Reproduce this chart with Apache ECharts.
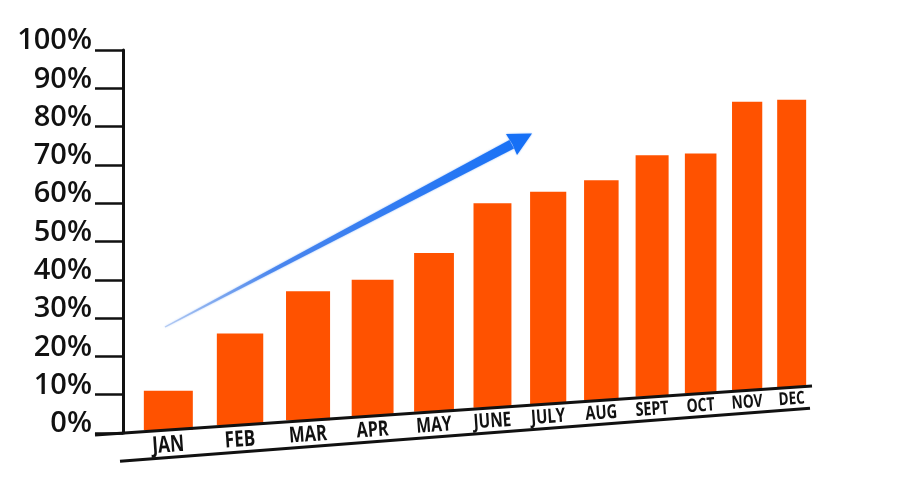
<!DOCTYPE html>
<html>
<head>
<meta charset="utf-8">
<script src="https://cdn.jsdelivr.net/npm/echarts@6/dist/echarts.min.js"></script>
<style>
  html, body { margin: 0; padding: 0; background: #fff; }
  #chart { width: 922px; height: 497px; }
</style>
</head>
<body>
<div id="chart"></div>
<script>
var months = ['JAN', 'FEB', 'MAR', 'APR', 'MAY', 'JUNE', 'JULY', 'AUG', 'SEPT', 'OCT', 'NOV', 'DEC'];
var values = [11, 26, 37, 40, 47, 60, 63, 66, 72.5, 73, 86.5, 87];

var C = 0.3;          // how strong the perspective squeeze is
var SLOPE = 0.0683;   // tilt of the floor line
var AXIS_OFFSET = 17; // y axis sits left of the grid

function warp(u) {
	return u * (1 + C) / (1 + C * u);
}

function renderBar(params, api) {
	var i = api.value(0);
	var v = api.value(1);
	var cs = params.coordSys;
	var n = months.length - 1;
	var first = api.coord([0, 0]);
	var last = api.coord([n, 0]);
	var u = i / n;
	var s = 1 / (1 + C * u);
	var cx = first[0] + (last[0] - first[0]) * warp(u);
	var band = api.size([1, 0])[0];
	var w = band * 0.665 * (1 + C) * s * s;
	var axisX = cs.x - AXIS_OFFSET;
	var y0 = first[1];
	var base = y0 - SLOPE * (cx - axisX);
	var top = api.coord([i, v])[1];
	var ang = Math.atan(SLOPE);

	var children = [{
		type: 'rect',
		shape: { x: cx - w / 2, y: top, width: w, height: base - top },
		style: { fill: '#ff5200' }
	}, {
		type: 'text',
		x: cx,
		y: base + 15.5 * s,
		rotation: ang,
		scaleX: 0.76,
		style: {
			text: months[i],
			fill: '#111',
			font: 'bold ' + (23 * s).toFixed(1) + 'px "Open Sans"',
			align: 'center',
			verticalAlign: 'middle'
		}
	}];

	if (i === 0) {
		// floor line under the bars and the lower edge line
		children.push({
			type: 'line',
			z2: 10,
			shape: { x1: axisX - 28, y1: y0 + SLOPE * 28, x2: 812, y2: y0 - SLOPE * (812 - axisX) },
			style: { stroke: '#111', lineWidth: 3 }
		});
		children.push({
			type: 'line',
			z2: 10,
			shape: { x1: axisX - 3, y1: y0 + 28 + 0.0768 * 3, x2: 810, y2: y0 + 28 - 0.0768 * (810 - axisX) },
			style: { stroke: '#111', lineWidth: 3 }
		});
	}
	return { type: 'group', children: children };
}

var option = {
	animation: false,
	grid: { left: 140, right: 102, top: 50, bottom: 64 },
	xAxis: {
		type: 'category',
		data: months,
		show: false
	},
	yAxis: {
		type: 'value',
		min: 0,
		max: 100,
		interval: 10,
		offset: AXIS_OFFSET,
		splitLine: { show: false },
		axisLine: { show: true, lineStyle: { color: '#111', width: 3 } },
		axisTick: { show: true, length: 28, lineStyle: { color: '#111', width: 2.5 } },
		axisLabel: {
			formatter: '{value}%',
			color: '#111',
			fontSize: 29,
			fontWeight: 600,
			fontFamily: 'Open Sans',
			margin: 31,
			verticalAlign: 'bottom',
			lineHeight: 28,
			padding: [0, 0, -5, 0]
		}
	},
	graphic: [{
		type: 'polygon',
		shape: { points: [[164.7, 326.5], [165.3, 327.5], [514, 148.5], [509.4, 140]] },
		style: {
			fill: {
				type: 'linear', global: true,
				x: 165, y: 327, x2: 531, y2: 134,
				colorStops: [
					{ offset: 0, color: 'rgba(130,165,230,0.5)' },
					{ offset: 0.3, color: '#4a86ee' },
					{ offset: 1, color: '#1670f6' }
				]
			},
			shadowBlur: 2,
			shadowColor: 'rgba(22,112,246,0.5)'
		}
	}, {
		type: 'polygon',
		shape: { points: [[532, 133.5], [517, 155], [512.5, 144.5], [506, 134]] },
		style: { fill: '#1670f6', shadowBlur: 2, shadowColor: 'rgba(22,112,246,0.5)' }
	}],
	series: [{
		type: 'custom',
		renderItem: renderBar,
		clip: false,
		data: values.map(function (v, i) { return [i, v]; })
	}]
};

var myChart = echarts.init(document.getElementById('chart'));
myChart.setOption(option);
</script>
</body>
</html>
